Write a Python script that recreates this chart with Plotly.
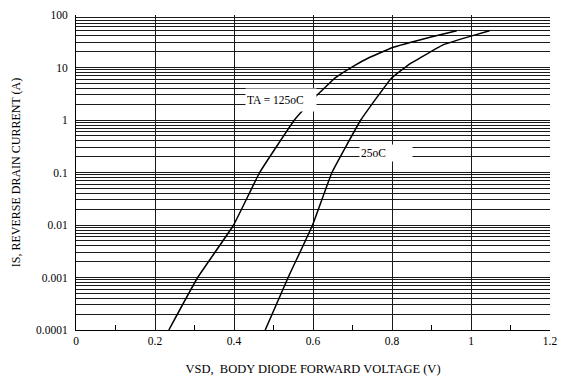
import plotly.graph_objects as go

# Body diode forward characteristic, IS vs VSD at two junction temperatures
vsd_125 = [0.235, 0.308, 0.399, 0.465, 0.553, 0.600, 0.657, 0.706, 0.739, 0.800, 0.896, 0.964]
is_125 = [1e-4, 1e-3, 1e-2, 1e-1, 1.0, 2.5, 6.4, 11.0, 15.0, 23.8, 37.7, 50.0]

vsd_25 = [0.479, 0.537, 0.599, 0.648, 0.721, 0.798, 0.847, 0.863, 0.929, 1.000, 1.047]
is_25 = [1e-4, 1e-3, 1e-2, 1e-1, 1.0, 6.2, 12.0, 14.0, 27.0, 39.6, 50.0]

x_ticks = [0, 0.2, 0.4, 0.6, 0.8, 1.0, 1.2]
x_tick_text = ["0", "0.2", "0.4", "0.6", "0.8", "1", "1.2"]
y_ticks = [1e-4, 1e-3, 1e-2, 1e-1, 1, 10, 100]
y_tick_text = ["0.0001", "0.001", "0.01", "0.1", "1", "10", "100"]

FONT = "Liberation Serif, Times New Roman, serif"
GRID = "#1a1a1a"

# minor decade positions 2..9 x 10^n for the dense log grid
y_minor = [k * 10.0 ** n for n in range(-4, 2) for k in range(2, 10)]

fig = go.Figure()
for vx, iy in ((vsd_125, is_125), (vsd_25, is_25)):
    fig.add_trace(go.Scatter(x=vx, y=iy, mode="lines",
                             line=dict(color="black", width=1.5, shape="spline", smoothing=0.3),
                             showlegend=False))

fig.add_annotation(x=0.52, y=0.39, xref="x", yref="y", text="TA = 125oC",
                   showarrow=False, bgcolor="white", width=68, height=20, align="left",
                   font=dict(family=FONT, size=11.5, color="black"))
fig.add_annotation(x=0.785, y=-0.636, xref="x", yref="y", text="25oC",
                   showarrow=False, bgcolor="white", width=50, height=14, align="left",
                   font=dict(family=FONT, size=11.5, color="black"))

fig.update_xaxes(range=[0, 1.2], tickvals=x_ticks, ticktext=x_tick_text,
                 showgrid=True, gridcolor=GRID, gridwidth=1, zeroline=False,
                 showline=True, linecolor="black", linewidth=1, ticks="",
                 minor=dict(tickvals=[0.1, 0.3, 0.5, 0.7, 0.9, 1.1], ticks="inside",
                            ticklen=5, tickcolor="black", showgrid=False),
                 tickfont=dict(family=FONT, size=11.5, color="black"),
                 title=dict(text="VSD,  BODY DIODE FORWARD VOLTAGE (V)", standoff=18,
                            font=dict(family=FONT, size=12.5, color="black")))
fig.update_yaxes(type="log", range=[-4, 2], tickvals=y_ticks, ticktext=y_tick_text,
                 showgrid=True, gridcolor=GRID, gridwidth=1, zeroline=False,
                 showline=True, linecolor="black", linewidth=1, ticks="",
                 ticklabelstandoff=5,
                 minor=dict(tickvals=y_minor, showgrid=True, gridcolor=GRID, gridwidth=1,
                            ticks=""),
                 tickfont=dict(family=FONT, size=11.5, color="black"),
                 title=dict(text="IS, REVERSE DRAIN CURRENT (A)", standoff=12,
                            font=dict(family=FONT, size=12, color="black")))

fig.update_layout(width=566, height=383, margin=dict(l=76, r=10, t=9, b=53),
                  plot_bgcolor="white", paper_bgcolor="white")

fig.write_html("out.html")
